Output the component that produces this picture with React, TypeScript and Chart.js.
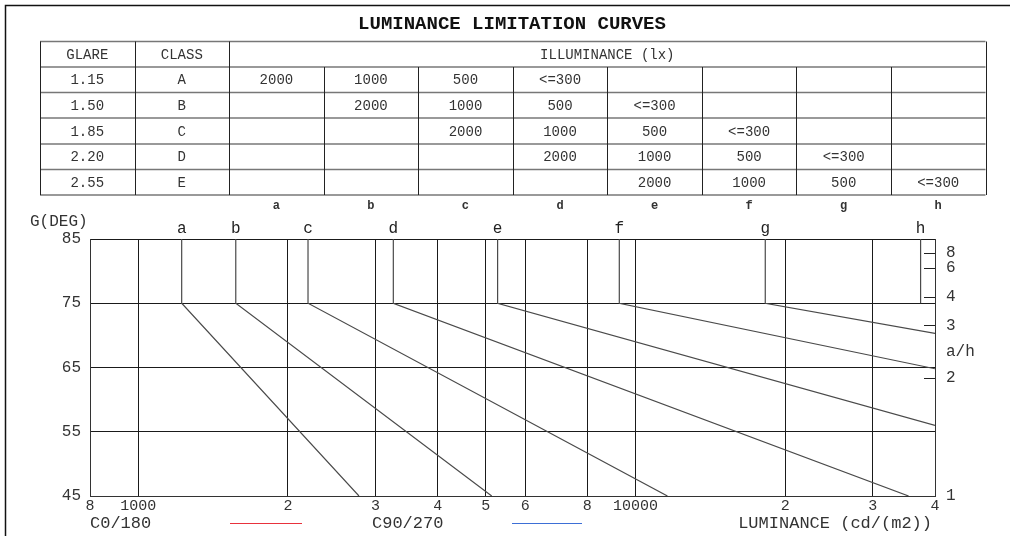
import React, { useEffect, useRef } from 'react';
import { Chart, registerables } from 'chart.js';

Chart.register(...registerables);

// ---------- data ----------
const curveLetters = ['a', 'b', 'c', 'd', 'e', 'f', 'g', 'h'];
const kneeLuminance = [1223, 1571, 2195, 3258, 5280, 9275, 18230, 37420];
const endLuminance: (number | null)[] = [2779, 5138, 11590, 35400, 40000, 40000, 40000, null];
const endAngle: (number | null)[] = [45, 45, 45, 45, 56, 64.8, 70.3, null];
const kneeAngle = 75;
const topAngle = 85;

const xTickValues = [800, 1000, 2000, 3000, 4000, 5000, 6000, 8000, 10000, 20000, 30000, 40000];
const xTickLabels = ['8', '1000', '2', '3', '4', '5', '6', '8', '10000', '2', '3', '4'];
const yTickValues = [45, 55, 65, 75, 85];
const ratioTicks = [1, 2, 3, 4, 6, 8];

const tableHeaders = ['GLARE', 'CLASS', 'ILLUMINANCE (lx)'];
const glareValues = ['1.15', '1.50', '1.85', '2.20', '2.55'];
const classLabels = ['A', 'B', 'C', 'D', 'E'];
const illuminanceRows = [
  ['2000', '1000', '500', '<=300', '', '', '', ''],
  ['', '2000', '1000', '500', '<=300', '', '', ''],
  ['', '', '2000', '1000', '500', '<=300', '', ''],
  ['', '', '', '2000', '1000', '500', '<=300', ''],
  ['', '', '', '', '2000', '1000', '500', '<=300'],
];
const legendLabels = ['C0/180', 'C90/270'];
const legendColors = ['#e8323c', '#3d6fd6'];

const MONO = '"Courier New", "Liberation Mono", monospace';
const toDeg = (r: number) => (Math.atan(r) * 180) / Math.PI;

const overlayPlugin = {
  id: 'overlay',
  afterDraw(chart: any) {
    const ctx = chart.ctx as CanvasRenderingContext2D;
    const xs = chart.scales.x;
    const y1 = chart.scales.y1;
    const area = chart.chartArea;
    ctx.save();

    // outer frame (top + left)
    ctx.strokeStyle = '#111';
    ctx.lineWidth = 1.5;
    ctx.beginPath();
    ctx.moveTo(5.5, 536);
    ctx.lineTo(5.5, 5.5);
    ctx.lineTo(1010, 5.5);
    ctx.stroke();

    // title
    ctx.fillStyle = '#111';
    ctx.font = `bold 19px ${MONO}`;
    ctx.textAlign = 'center';
    ctx.textBaseline = 'middle';
    ctx.fillText('LUMINANCE LIMITATION CURVES', 512, 24);

    // table
    const tLeft = 40;
    const colW = 94.55;
    const rowYs = [41.5, 67, 92.5, 118, 144, 169.5, 195];
    const tRight = tLeft + colW * 10;
    ctx.strokeStyle = '#777';
    ctx.lineWidth = 1.6;
    rowYs.forEach((y) => {
      ctx.beginPath();
      ctx.moveTo(tLeft, y);
      ctx.lineTo(tRight, y);
      ctx.stroke();
    });
    ctx.strokeStyle = '#222';
    ctx.lineWidth = 1;
    for (let c = 0; c <= 10; c++) {
      const x = Math.round(tLeft + c * colW) + 0.5;
      const yStart = c >= 3 && c <= 9 ? rowYs[1] : rowYs[0];
      ctx.beginPath();
      ctx.moveTo(x, yStart);
      ctx.lineTo(x, rowYs[6]);
      ctx.stroke();
    }
    ctx.fillStyle = '#333';
    ctx.font = `14px ${MONO}`;
    ctx.textAlign = 'center';
    ctx.textBaseline = 'middle';
    const hy = (rowYs[0] + rowYs[1]) / 2 + 1;
    ctx.fillText(tableHeaders[0], tLeft + colW * 0.5, hy);
    ctx.fillText(tableHeaders[1], tLeft + colW * 1.5, hy);
    ctx.fillText(tableHeaders[2], tLeft + colW * 6, hy);
    for (let r = 0; r < glareValues.length; r++) {
      const cy = (rowYs[r + 1] + rowYs[r + 2]) / 2 + 1;
      ctx.fillText(glareValues[r], tLeft + colW * 0.5, cy);
      ctx.fillText(classLabels[r], tLeft + colW * 1.5, cy);
      illuminanceRows[r].forEach((v, c) => {
        if (v) ctx.fillText(v, tLeft + colW * (c + 2.5), cy);
      });
    }
    // letters under table
    ctx.font = `bold 12px ${MONO}`;
    curveLetters.forEach((l, i) => {
      ctx.fillText(l, tLeft + colW * (i + 2.5), 206);
    });

    // letters at curves
    ctx.font = `16px ${MONO}`;
    ctx.fillStyle = '#222';
    curveLetters.forEach((l, i) => {
      ctx.fillText(l, xs.getPixelForValue(kneeLuminance[i]), 229);
    });

    // axis titles
    ctx.fillStyle = '#333';
    ctx.textAlign = 'left';
    ctx.font = `16px ${MONO}`;
    ctx.fillText('G(DEG)', 30, 222);
    ctx.font = `16px ${MONO}`;
    ctx.fillText('a/h', 946, 352);

    // ratio tick marks inside plot
    ctx.strokeStyle = '#222';
    ctx.lineWidth = 1;
    ratioTicks.forEach((r) => {
      if (r === 1) return;
      const y = Math.round(y1.getPixelForValue(toDeg(r))) + 0.5;
      ctx.beginPath();
      ctx.moveTo(area.right - 11, y);
      ctx.lineTo(area.right, y);
      ctx.stroke();
    });

    // legend
    ctx.font = `17px ${MONO}`;
    ctx.fillStyle = '#333';
    ctx.textAlign = 'left';
    ctx.fillText(legendLabels[0], 90, 523);
    ctx.fillText(legendLabels[1], 372, 523);
    ctx.lineWidth = 1.2;
    ctx.strokeStyle = legendColors[0];
    ctx.beginPath();
    ctx.moveTo(230, 523.5);
    ctx.lineTo(302, 523.5);
    ctx.stroke();
    ctx.strokeStyle = legendColors[1];
    ctx.beginPath();
    ctx.moveTo(512, 523.5);
    ctx.lineTo(582, 523.5);
    ctx.stroke();
    ctx.textAlign = 'right';
    ctx.fillText('LUMINANCE (cd/(m2))', 932, 523);

    ctx.restore();
  },
};

export default function App() {
  const ref = useRef<HTMLCanvasElement | null>(null);

  useEffect(() => {
    if (!ref.current) return;
    const datasets = curveLetters.map((l, i) => {
      const pts: { x: number; y: number }[] = [
        { x: kneeLuminance[i], y: topAngle },
        { x: kneeLuminance[i], y: kneeAngle },
      ];
      const el = endLuminance[i];
      const ea = endAngle[i];
      if (el !== null && ea !== null) pts.push({ x: el, y: ea });
      return {
        label: l,
        data: pts,
        borderColor: '#4a4a4a',
        borderWidth: 1.2,
        pointRadius: 0,
        fill: false,
        tension: 0,
      };
    });

    const chart = new Chart(ref.current, {
      type: 'line',
      data: { datasets },
      plugins: [overlayPlugin],
      options: {
        animation: false,
        responsive: false,
        devicePixelRatio: 1,
        layout: { padding: { top: 239, left: 0, right: 0, bottom: 0 } },
        plugins: {
          legend: { display: false },
          tooltip: { enabled: false },
          title: { display: false },
        },
        scales: {
          x: {
            type: 'logarithmic',
            min: 800,
            max: 40000,
            afterBuildTicks: (s: any) => {
              s.ticks = xTickValues.map((v) => ({ value: v }));
            },
            afterFit: (s: any) => {
              s.height = 40;
            },
            ticks: {
              autoSkip: false,
              maxRotation: 0,
              padding: 1,
              color: '#333',
              font: { family: MONO, size: 15 },
              callback: (_v: any, i: number) => xTickLabels[i],
            },
            grid: { color: '#1a1a1a', lineWidth: 1, drawTicks: false },
            border: { color: '#333', width: 1 },
          },
          y: {
            type: 'linear',
            min: 45,
            max: 85,
            afterBuildTicks: (s: any) => {
              s.ticks = yTickValues.map((v) => ({ value: v }));
            },
            afterFit: (s: any) => {
              s.width = 90;
            },
            ticks: {
              autoSkip: false,
              padding: 9,
              color: '#333',
              font: { family: MONO, size: 16 },
              callback: (v: any) => String(v),
            },
            grid: { color: '#1a1a1a', lineWidth: 1, drawTicks: false },
            border: { color: '#333', width: 1 },
          },
          y1: {
            type: 'linear',
            position: 'right',
            min: 45,
            max: 85,
            afterBuildTicks: (s: any) => {
              s.ticks = ratioTicks.map((r) => ({ value: toDeg(r) }));
            },
            afterFit: (s: any) => {
              s.width = 75;
            },
            ticks: {
              autoSkip: false,
              padding: 11,
              color: '#333',
              font: { family: MONO, size: 16 },
              callback: (_v: any, i: number) => String(ratioTicks[i]),
            },
            grid: { display: false, drawOnChartArea: false, drawTicks: false },
            border: { color: '#333', width: 1 },
          },
        },
      },
    } as any);
    return () => chart.destroy();
  }, []);

  return (
    <div style={{ position: 'fixed', left: 0, top: 0, width: 1010, height: 536, background: '#fff' }}>
      <canvas ref={ref} width={1010} height={536} style={{ display: 'block' }} />
    </div>
  );
}
